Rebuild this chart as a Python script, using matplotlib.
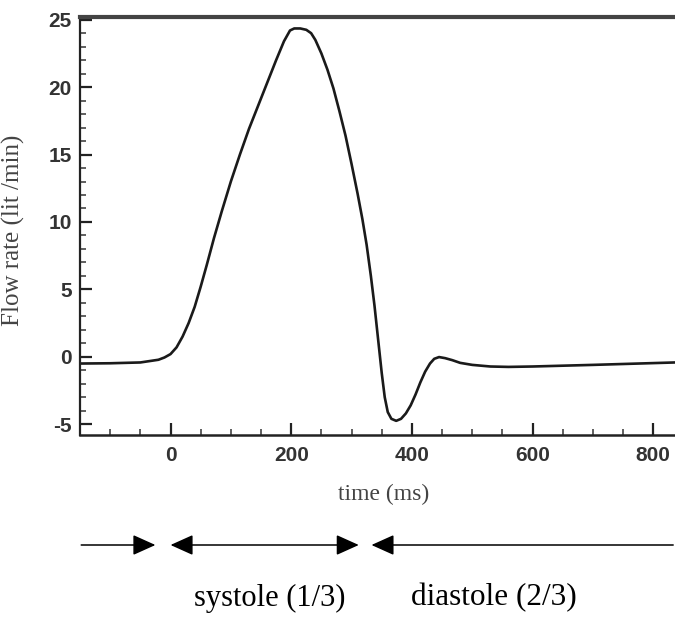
import matplotlib
matplotlib.use("Agg")
import matplotlib.pyplot as plt
from matplotlib.ticker import MultipleLocator

plt.rcParams["axes.unicode_minus"] = False

time_ms = [-150, -100, -50, -20, -10, 0, 10, 20, 30, 40, 50, 60, 72, 85, 100, 115, 130,
           145, 160, 175, 188, 198, 205, 215, 225, 233, 240, 250, 260, 270, 280, 290, 300,
           310, 318, 325, 332, 338, 344, 350, 355, 360, 366, 374, 382, 390, 398, 406, 414,
           422, 430, 437, 445, 455, 467, 480, 500, 530, 560, 600, 700, 836]
flow = [-0.5, -0.48, -0.42, -0.22, -0.05, 0.2, 0.7, 1.5, 2.5, 3.7, 5.2, 6.8, 8.8, 10.8, 13.0,
        15.0, 16.9, 18.6, 20.3, 22.0, 23.4, 24.2, 24.35, 24.35, 24.25, 24.0, 23.5, 22.5, 21.3,
        19.9, 18.2, 16.4, 14.3, 12.1, 10.2, 8.3, 6.0, 3.8, 1.3, -1.2, -3.0, -4.1, -4.6, -4.75,
        -4.6, -4.2, -3.6, -2.8, -1.9, -1.1, -0.5, -0.15, -0.02, -0.1, -0.25, -0.45, -0.6,
        -0.72, -0.75, -0.72, -0.6, -0.42]

x_ticks = [0, 200, 400, 600, 800]
y_ticks = [-5, 0, 5, 10, 15, 20, 25]

# phase arrows (x positions in ms)
arrow_pre = (-148, -25)
arrow_sys = (0, 312)
arrow_dia = (333, 833)
phase_labels = ["systole (1/3)", "diastole (2/3)"]

W, H = 675, 617
fig = plt.figure(figsize=(W / 100, H / 100), dpi=100)
ax = fig.add_axes([80 / W, (H - 435) / H, (W - 80) / W, (435 - 17) / H])

ax.plot(time_ms, flow, color="#1a1a1a", lw=1.9, solid_joinstyle="round", solid_capstyle="round")

ax.set_xlim(-150, 836)
ax.set_ylim(-5.8, 25.2)
ax.set_xticks(x_ticks)
ax.set_yticks(y_ticks)
ax.xaxis.set_minor_locator(MultipleLocator(50))
ax.yaxis.set_minor_locator(MultipleLocator(1))
ax.tick_params(which="major", direction="in", length=8.5, width=1.6, color="#222",
               labelsize=15, pad=6)
ax.tick_params(which="minor", direction="in", length=4.5, width=1.2, color="#444")
ax.tick_params(axis="x", which="major", pad=8)
for lab in ax.get_xticklabels() + ax.get_yticklabels():
    lab.set_fontweight("bold")
    lab.set_family("Liberation Sans")
    lab.set_color("#333")

ax.spines["right"].set_visible(False)
ax.spines["top"].set_linewidth(3.0)
ax.spines["top"].set_color("#444")
ax.spines["left"].set_linewidth(1.6)
ax.spines["bottom"].set_linewidth(1.8)
for s in ("left", "bottom"):
    ax.spines[s].set_color("#222")

ax.set_xlabel("time (ms)", family="Liberation Serif", fontsize=17, color="#444")
ax.xaxis.set_label_coords((384 - 80) / (W - 80), -(484 - 435) / (435 - 17))
ax.set_ylabel("Flow rate (lit /min)", family="Liberation Serif", fontsize=18, color="#444")
ax.yaxis.set_label_coords(-(80 - 25) / (W - 80), (435 - 230) / (435 - 17))

ay = (H - 545) / H
arrow_kw = dict(arrowstyle="-|>,head_length=1.0,head_width=0.45", color="black",
                lw=1.1, shrinkA=0, shrinkB=0, mutation_scale=14)
ax.annotate("", xy=(arrow_pre[1], ay), xytext=(arrow_pre[0], ay),
            xycoords=("data", "figure fraction"), textcoords=("data", "figure fraction"),
            arrowprops=arrow_kw, annotation_clip=False)
ax.annotate("", xy=(arrow_sys[1], ay), xytext=(arrow_sys[0], ay),
            xycoords=("data", "figure fraction"), textcoords=("data", "figure fraction"),
            arrowprops=dict(arrow_kw, arrowstyle="<|-|>,head_length=1.0,head_width=0.45"),
            annotation_clip=False)
ax.annotate("", xy=(arrow_dia[0], ay), xytext=(arrow_dia[1], ay),
            xycoords=("data", "figure fraction"), textcoords=("data", "figure fraction"),
            arrowprops=arrow_kw, annotation_clip=False)

fig.text(270 / W, (H - 598) / H, phase_labels[0], family="Liberation Serif", fontsize=22,
         ha="center", va="center")
fig.text(494 / W, (H - 598) / H, phase_labels[1], family="Liberation Serif", fontsize=22.5,
         ha="center", va="center")

fig.savefig("out.png", dpi=100)
